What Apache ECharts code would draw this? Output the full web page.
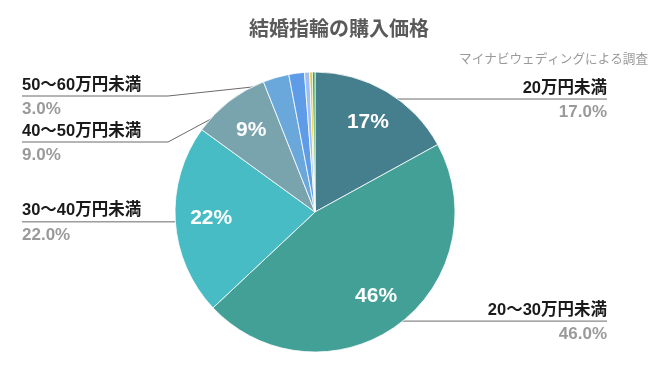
<!DOCTYPE html>
<html><head><meta charset="utf-8">
<script src="https://cdn.jsdelivr.net/npm/echarts@6/dist/echarts.min.js"></script>
<style>html,body{margin:0;padding:0;background:#fff}#c{width:672px;height:371px}</style>
</head><body><div id="c"></div>
<script>
const categories = ['20万円未満','20～30万円未満','30～40万円未満','40～50万円未満','50～60万円未満','60～70万円未満','70～80万円未満','80～90万円未満','90万円以上'];
const values = [17, 46, 22, 9, 3, 1.8, 0.6, 0.3, 0.3];
const colors = ['#457e8c','#42a096','#47bcc5','#79a4ae','#6aa8dc','#5e9ce8','#9dbff5','#f4c20d','#34a853'];
const titleText = '結婚指輪の購入価格';
const subText = 'マイナビウェディングによる調査';

const cx = 315, cy = 212, R = 140;
const leftX = 22, rightX = 607, elbowX = 168;
const labelYOverride = {3: 142, 4: 96};
const cjk = '"Noto Sans CJK JP","Noto Sans",sans-serif';
const mixed = '"Liberation Sans","Noto Sans CJK JP",sans-serif';

const chart = echarts.init(document.getElementById('c'));
const data = categories.map((n, i) => ({
  name: n, value: values[i], itemStyle: {color: colors[i]},
  label: {show: values[i] >= 2}, labelLine: {show: values[i] >= 2}
}));
chart.setOption({
  animation: false,
  title: [
    {text: titleText, left: 334, top: 13, textAlign: 'center',
     textStyle: {fontFamily: cjk, fontSize: 20, fontWeight: 'bold', color: '#5a5a5a'}},
    {text: subText, right: 19, top: 47,
     textStyle: {fontFamily: cjk, fontSize: 12.6, fontWeight: 'normal', color: '#9a9a9a'}}
  ],
  series: [
    {
      type: 'pie', center: [cx, cy], radius: R, startAngle: 90, clockwise: true,
      itemStyle: {borderColor: '#fff', borderWidth: 0.8},
      data: data,
      label: {
        position: 'outside',
        formatter: p => '{n|' + p.name + '}\n{v|' + p.value.toFixed(1) + '%}',
        rich: {
          n: {fontFamily: mixed, fontSize: 16.5, fontWeight: 'bold', color: '#1a1a1a', lineHeight: 24},
          v: {fontFamily: mixed, fontSize: 17, fontWeight: 'bold', color: '#9a9a9a', lineHeight: 24}
        }
      },
      labelLine: {length: 10, length2: 10, lineStyle: {color: '#6a6a6a', width: 1}},
      labelLayout: function (p) {
        const pts = p.labelLinePoints;
        if (!pts) return {};
        const p0 = pts[0];
        const k = 0.95;
        const ax = cx + (p0[0] - cx) * k, ay = cy + (p0[1] - cy) * k;
        const isLeft = p0[0] < cx;
        const y = labelYOverride[p.dataIndex] !== undefined ? labelYOverride[p.dataIndex] : ay + 1.5;
        const ty = y + 1;
        let newPts;
        if (isLeft) {
          const ex = Math.abs(y - ay) > 3 ? elbowX : ax;
          newPts = [[ax, ay], [ex, y], [leftX, y]];
          return {x: leftX, y: ty, align: 'left', verticalAlign: 'middle', labelLinePoints: newPts};
        } else {
          newPts = [[ax, ay], [ax, y], [rightX, y]];
          return {x: rightX, y: ty, align: 'right', verticalAlign: 'middle', labelLinePoints: newPts};
        }
      }
    },
    {
      type: 'pie', center: [cx, cy], radius: [62, R], startAngle: 90, clockwise: true,
      silent: true,
      itemStyle: {color: 'rgba(0,0,0,0)'},
      data: categories.map((n, i) => ({name: n, value: values[i]})),
      label: {
        position: 'inside',
        formatter: p => p.value >= 5 ? p.value + '%' : '',
        fontFamily: mixed, fontSize: 21, fontWeight: 'bold', color: '#fff'
      },
      labelLine: {show: false}
    }
  ]
});
</script></body></html>
